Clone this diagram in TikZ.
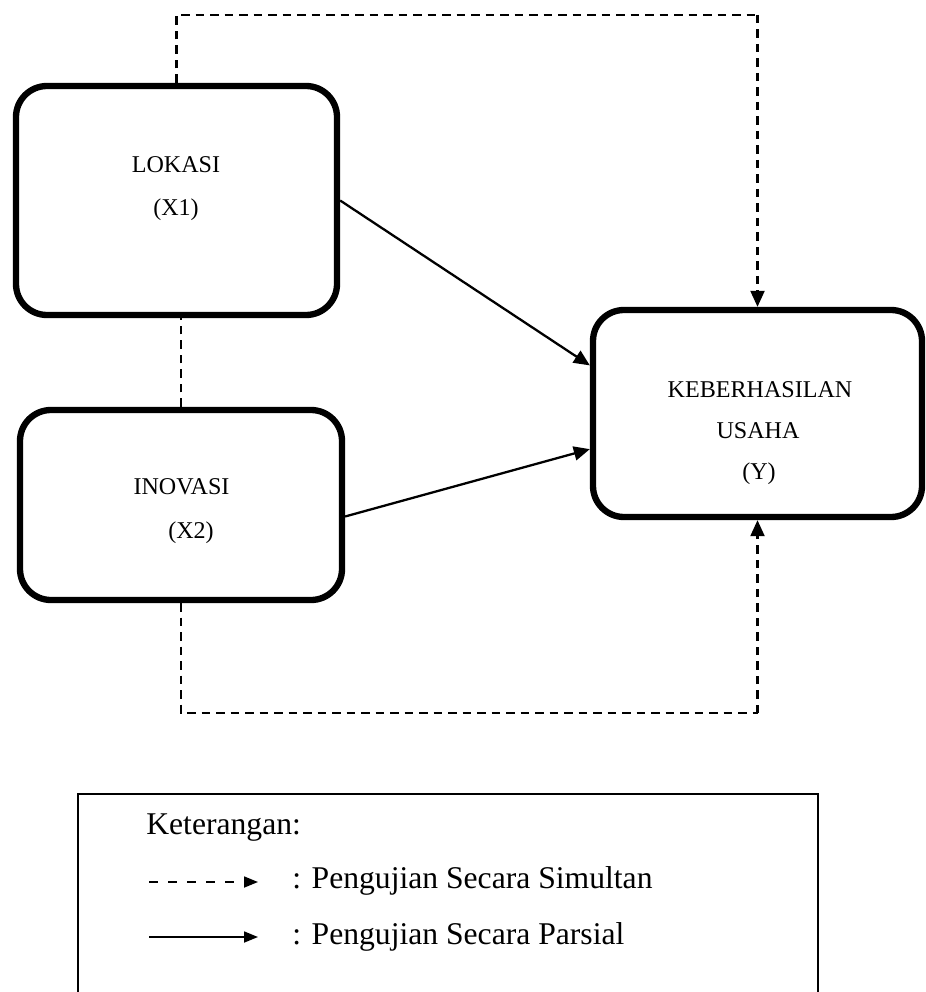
\documentclass[tikz,border=0pt]{standalone}
\usepackage{fontspec}
\setmainfont{Liberation Serif}
\usepackage{tikz}
\usetikzlibrary{positioning, arrows.meta}

\begin{document}
\begin{tikzpicture}[
    varbox/.style={rectangle, rounded corners=0.62cm, draw=black, line width=3.6pt, fill=white},
    vartext/.style={anchor=base, inner sep=0pt, font=\fontsize{13.7}{16}\selectfont},
    legtext/.style={anchor=base west, inner sep=0pt, font=\fontsize{18}{22}\selectfont},
    simul/.style={line width=1.2pt, dash pattern=on 0.17cm off 0.12cm},
    parsial/.style={line width=1.3pt},
    tip/.style={-{Triangle[length=0.32cm, width=0.28cm]}}]
    \useasboundingbox (0,0) rectangle (18.5,-19.84);

    \node[varbox, minimum width=6.42cm, minimum height=4.58cm] (lokasi) at (3.53,-4.01) {};
    \node[varbox, minimum width=6.44cm, minimum height=3.80cm] (inovasi) at (3.62,-10.10) {};
    \node[varbox, minimum width=6.58cm, minimum height=4.14cm] (usaha) at (15.15,-8.27) {};

    \node[vartext] (lokasiA) at (3.52,-3.46) {LOKASI};
    \node[vartext] (lokasiB) at (3.52,-4.32) {(X1)};
    \node[vartext] (inovasiA) at (3.63,-9.88) {INOVASI};
    \node[vartext] (inovasiB) at (3.82,-10.76) {(X2)};
    \node[vartext] (usahaA) at (15.2,-7.94) {KEBERHASILAN};
    \node[vartext] (usahaB) at (15.16,-8.76) {USAHA};
    \node[vartext] (usahaC) at (15.18,-9.58) {(Y)};

    \coordinate (topY) at (15.15,-0.30);
    \coordinate (botY) at (15.15,-14.26);

    \draw[simul] (lokasi.north) |- (topY);
    \draw[simul, tip] (topY) -- (usaha.north);
    \draw[simul] (inovasi.north) -- (inovasi.north |- lokasi.south);
    \draw[simul] (inovasi.south) |- (botY);
    \draw[simul, tip] (botY) -- (usaha.south);

    \draw[parsial, tip] (lokasi.east) -- (usaha.164);
    \draw[parsial, tip] (inovasi.-4) -- (usaha.192);

    % keterangan
    \node[draw, line width=1.1pt, anchor=north west, minimum width=14.8cm, minimum height=4.3cm] (legend) at (1.54,-15.86) {};
    \node[legtext] (ket) at (2.92,-16.68) {Keterangan:};
    \coordinate (simA) at (2.98,-17.64);
    \coordinate (simB) at (5.16,-17.64);
    \coordinate (parA) at (2.98,-18.74);
    \coordinate (parB) at (5.16,-18.74);
    \draw[line width=1pt, dash pattern=on 0.18cm off 0.2cm, -{Triangle[length=0.28cm, width=0.22cm]}] (simA) -- (simB);
    \draw[line width=1pt, -{Triangle[length=0.28cm, width=0.22cm]}] (parA) -- (parB);
    \node[legtext] (simLbl) at (5.84,-17.76) {: Pengujian Secara Simultan};
    \node[legtext] (parLbl) at (5.84,-18.88) {: Pengujian Secara Parsial};
\end{tikzpicture}
\end{document}
